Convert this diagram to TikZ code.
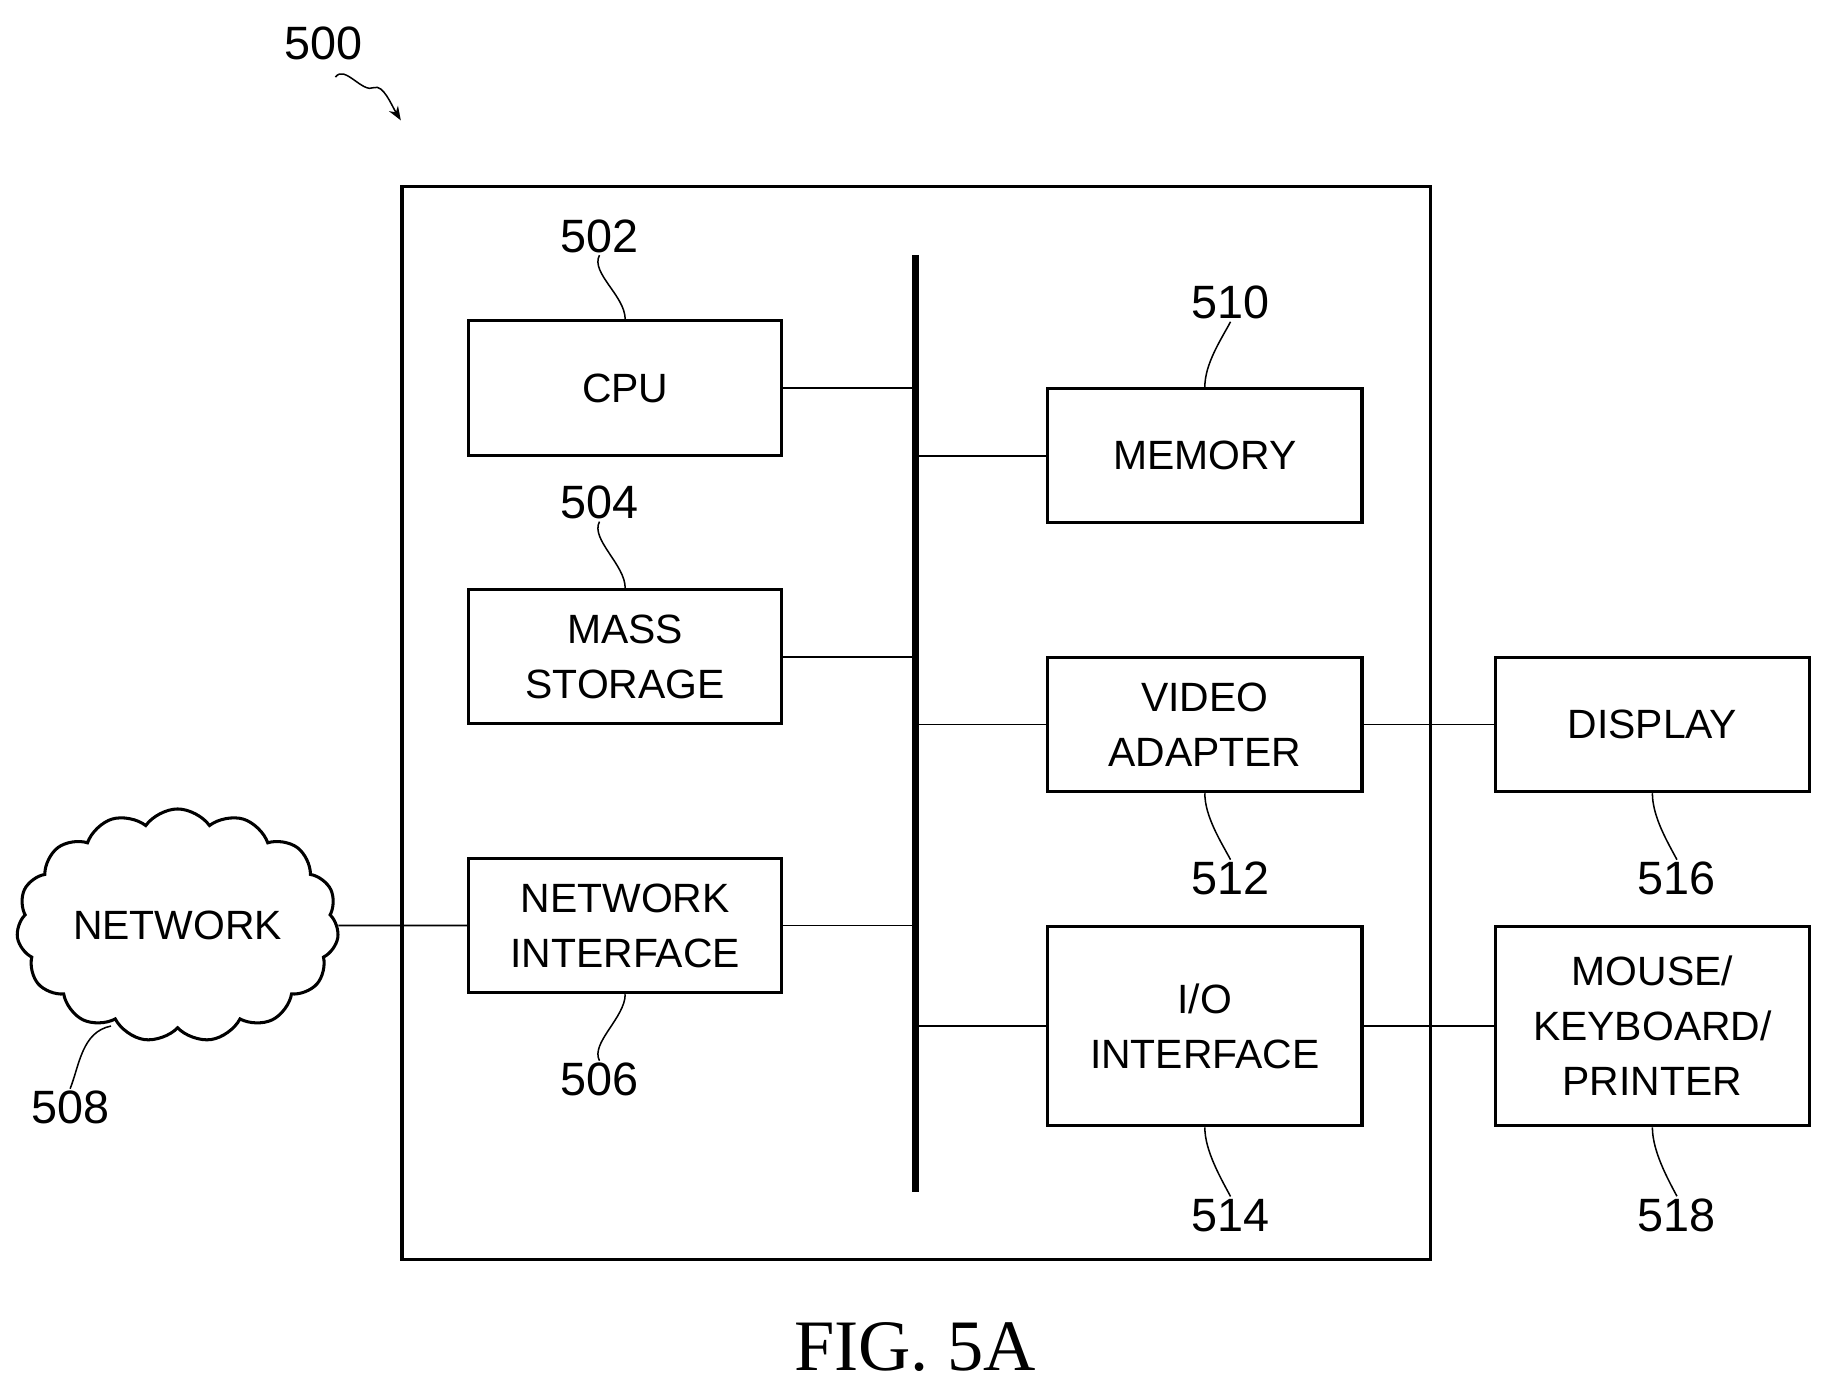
\documentclass[tikz,border=0pt]{standalone}
\usepackage{fontspec}
\setmainfont{Liberation Sans}
\newfontfamily\figfont{Liberation Serif}
\usetikzlibrary{shapes.symbols,arrows.meta}
\begin{document}
\begin{tikzpicture}[x=1pt,y=-1pt,
  box/.style={draw,line width=2.6pt,inner sep=0pt,align=center,font=\fontsize{35}{47}\selectfont},
  num/.style={font=\fontsize{40}{44}\selectfont,inner sep=2pt},
  lead/.style={line width=1.3pt},
  wire/.style={line width=1.6pt}]
\useasboundingbox (0,0) rectangle (1560,1186);
\draw[line width=2.6pt] (344,160) rectangle (1224,1078);
\coordinate (bt) at (783,218); \coordinate (bb) at (783,1020);
\draw[line width=6pt] (bt) -- (bb);
\node[box,minimum width=268pt,minimum height=115pt] (cpu) at (535,332) {CPU};
\node[box,minimum width=268pt,minimum height=115pt] (mass) at (535,562) {MASS\\STORAGE};
\node[box,minimum width=268pt,minimum height=115pt] (nif) at (535,792) {NETWORK\\INTERFACE};
\node[box,minimum width=269pt,minimum height=115pt] (mem) at (1031,390) {MEMORY};
\node[box,minimum width=269pt,minimum height=115pt] (vid) at (1031,620) {VIDEO\\ADAPTER};
\node[box,minimum width=269pt,minimum height=171pt] (io) at (1031,878) {I/O\\INTERFACE};
\node[box,minimum width=269pt,minimum height=115pt] (disp) at (1414,620) {DISPLAY};
\node[box,minimum width=269pt,minimum height=171pt] (mouse) at (1414,878) {MOUSE/\\KEYBOARD/\\PRINTER};
\node[cloud,draw,line width=2.6pt,cloud puffs=15,cloud puff arc=110,aspect=1.5,minimum width=270pt,minimum height=190pt,font=\fontsize{35}{44}\selectfont] (net) at (152,792) {NETWORK};
\coordinate (b1) at (783,332); \coordinate (b2) at (783,390);
\coordinate (b3) at (783,562); \coordinate (b4) at (783,620);
\coordinate (b5) at (783,792); \coordinate (b6) at (783,878);
\draw[wire] (cpu.east) -- (b1); \draw[wire] (b2) -- (mem.west);
\draw[wire] (mass.east) -- (b3); \draw[wire] (b4) -- (vid.west);
\draw[wire] (nif.east) -- (b5); \draw[wire] (b6) -- (io.west);
\draw[wire] (net.east) -- (nif.west);
\draw[wire] (vid.east) -- (disp.west);
\draw[wire] (io.east) -- (mouse.west);
\node[num] (n500) at (277,37) {500};
\node[num] (n502) at (513,202) {502};
\node[num] (n504) at (513,430) {504};
\node[num] (n506) at (513,924) {506};
\node[num] (n508) at (60,948) {508};
\node[num] (n510) at (1053,259) {510};
\node[num] (n512) at (1053,752) {512};
\node[num] (n514) at (1053,1040) {514};
\node[num] (n516) at (1435,752) {516};
\node[num] (n518) at (1435,1040) {518};
\coordinate (a500) at (343,103);
\draw[lead,-{Stealth[length=12pt,width=9pt]}] (287,66) .. controls (295,55) and (310,80) .. (320,75) .. controls (328,72) and (335,90) .. (a500);
\draw[lead] (n502.south) .. controls +(-8,15) and +(0,-20) .. (cpu.north);
\draw[lead] (n504.south) .. controls +(-8,15) and +(0,-20) .. (mass.north);
\draw[lead] (nif.south) .. controls +(0,20) and +(-8,-15) .. (n506.north);
\draw[lead] (n510.south) .. controls +(-8,15) and +(0,-20) .. (mem.north);
\draw[lead] (vid.south) .. controls +(0,20) and +(-8,-15) .. (n512.north);
\draw[lead] (io.south) .. controls +(0,20) and +(-8,-15) .. (n514.north);
\draw[lead] (disp.south) .. controls +(0,20) and +(-8,-15) .. (n516.north);
\draw[lead] (mouse.south) .. controls +(0,20) and +(-8,-15) .. (n518.north);
\coordinate (c508) at (95,878);
\draw[lead] (c508) .. controls +(-25,5) and +(8,-20) .. (n508.north);
\node[font=\figfont\fontsize{62}{64}\selectfont] (fig) at (783,1153) {FIG. 5A};
\end{tikzpicture}
\end{document}
